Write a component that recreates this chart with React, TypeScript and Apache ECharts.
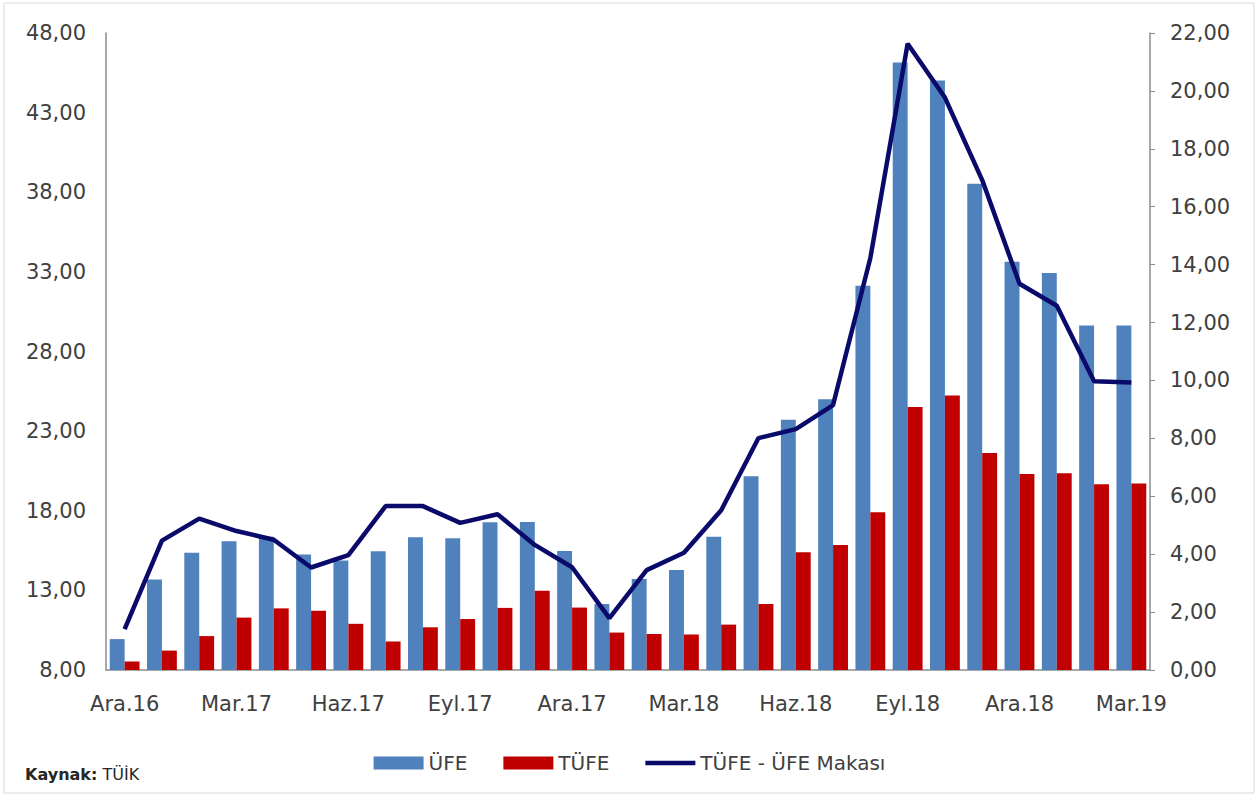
import React, { useEffect, useRef } from "react";
import * as echarts from "echarts";

const months = [
  "Ara.16", "Oca.17", "Şub.17", "Mar.17", "Nis.17", "May.17", "Haz.17", "Tem.17", "Ağu.17", "Eyl.17",
  "Eki.17", "Kas.17", "Ara.17", "Oca.18", "Şub.18", "Mar.18", "Nis.18", "May.18", "Haz.18", "Tem.18",
  "Ağu.18", "Eyl.18", "Eki.18", "Kas.18", "Ara.18", "Oca.19", "Şub.19", "Mar.19",
];
const ufe = [
  9.94, 13.69, 15.36, 16.09, 16.37, 15.26, 14.87, 15.45, 16.34, 16.28,
  17.28, 17.30, 15.47, 12.14, 13.71, 14.28, 16.37, 20.16, 23.71, 25.0,
  32.13, 46.15, 45.01, 38.54, 33.64, 32.93, 29.64, 29.64,
];
const tufe = [
  8.53, 9.22, 10.13, 11.29, 11.87, 11.72, 10.9, 9.79, 10.68, 11.2,
  11.9, 12.98, 11.92, 10.35, 10.26, 10.23, 10.85, 12.15, 15.39, 15.85,
  17.9, 24.52, 25.24, 21.62, 20.3, 20.35, 19.67, 19.71,
];
const makas = [
  1.41, 4.47, 5.23, 4.8, 4.5, 3.54, 3.97, 5.66, 5.66, 5.08,
  5.38, 4.32, 3.55, 1.79, 3.45, 4.05, 5.52, 8.01, 8.32, 9.15,
  14.23, 21.63, 19.77, 16.92, 13.34, 12.58, 9.97, 9.93,
];

const FONT = "DejaVu Sans";
const fmt = (v: number) => v.toFixed(2).replace(".", ",");

export default function App() {
  const ref = useRef<HTMLDivElement>(null);
  useEffect(() => {
    if (!ref.current) return;
    const chart = echarts.init(ref.current, null, { renderer: "svg" });
    chart.setOption({
      animation: false,
      backgroundColor: "#ffffff",
      textStyle: { fontFamily: FONT },
      grid: { left: 106, right: 109, top: 33, bottom: 128, containLabel: false },
      legend: {
        bottom: 20,
        left: "center",
        itemWidth: 50,
        itemHeight: 13,
        itemGap: 36,
        textStyle: { fontFamily: FONT, fontSize: 20, color: "#404040" },
        data: [
          { name: "ÜFE", icon: "rect" },
          { name: "TÜFE", icon: "rect" },
          { name: "TÜFE - ÜFE Makası", icon: "path://M0,0L50,0L50,4.5L0,4.5Z" },
        ],
      },
      xAxis: {
        type: "category",
        data: months,
        axisLine: { lineStyle: { color: "#8c8c8c", width: 1.5 } },
        axisTick: { show: false },
        axisLabel: { interval: 2, fontSize: 21, color: "#404040", margin: 23, fontFamily: FONT },
      },
      yAxis: [
        {
          type: "value",
          min: 8,
          max: 48,
          interval: 5,
          splitLine: { show: false },
          axisLine: { show: true, lineStyle: { color: "#8c8c8c", width: 1.5 } },
          axisTick: { show: false },
          axisLabel: { formatter: fmt, fontSize: 21, color: "#404040", margin: 20, fontFamily: FONT },
        },
        {
          type: "value",
          min: 0,
          max: 22,
          interval: 2,
          position: "right",
          splitLine: { show: false },
          axisLine: { show: true, lineStyle: { color: "#8c8c8c", width: 1.5 } },
          axisTick: { show: true, length: 5, lineStyle: { color: "#8c8c8c" } },
          axisLabel: { formatter: fmt, fontSize: 21, color: "#404040", margin: 20, fontFamily: FONT },
        },
      ],
      series: [
        {
          name: "ÜFE",
          type: "bar",
          yAxisIndex: 0,
          data: ufe,
          barGap: "0%",
          barCategoryGap: "20%",
          itemStyle: { color: "#4f81bd" },
        },
        {
          name: "TÜFE",
          type: "bar",
          yAxisIndex: 0,
          data: tufe,
          itemStyle: { color: "#c00000" },
        },
        {
          name: "TÜFE - ÜFE Makası",
          type: "line",
          yAxisIndex: 1,
          data: makas,
          symbol: "none",
          lineStyle: { color: "#0a0a6a", width: 4.5 },
          itemStyle: { color: "#0a0a6a" },
        },
      ],
      graphic: [
        {
          type: "rect",
          shape: { x: 4, y: 3, width: 1250, height: 790 },
          style: { fill: "none", stroke: "#d9d9d9", lineWidth: 1 },
          silent: true,
        },
        {
          type: "text",
          left: 25,
          top: 766,
          style: {
            text: "{b|Kaynak:} TÜİK",
            fontFamily: FONT,
            fontSize: 16,
            fill: "#262626",
            rich: { b: { fontWeight: "bold", fontFamily: FONT, fontSize: 16, fill: "#262626" } },
          },
        },
      ],
    });
    return () => chart.dispose();
  }, []);
  return <div ref={ref} style={{ position: "fixed", left: 0, top: 0, width: 1259, height: 798 }} />;
}
